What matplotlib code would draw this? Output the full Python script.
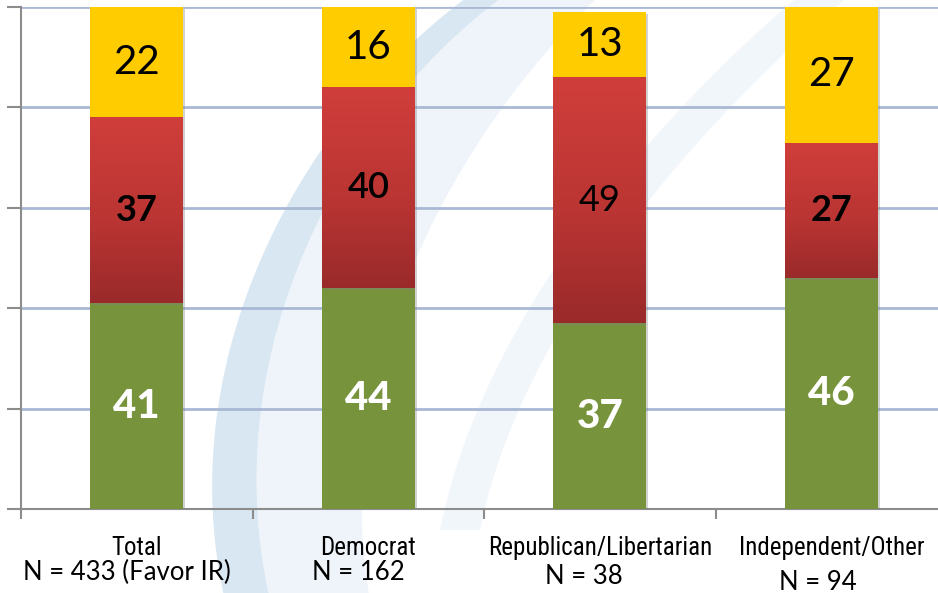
import numpy as np
import matplotlib
matplotlib.use("Agg")
import matplotlib.pyplot as plt
import matplotlib.patheffects as pe
from matplotlib.colors import LinearSegmentedColormap
from matplotlib.patches import Polygon

# Survey results, percent per group
groups = ["Total", "Democrat", "Republican/Libertarian", "Independent/Other"]
sample_sizes = ["N = 433 (Favor IR)", "N = 162", "N = 38", "N = 94"]
green_vals = [41, 44, 37, 46]
red_vals = [37, 40, 49, 27]
yellow_vals = [22, 16, 13, 27]

# label weights for the middle segment
red_weights = ["bold", "semibold", "normal", "bold"]

GREEN = "#77933C"
YELLOW = "#FFCC00"
red_cmap = LinearSegmentedColormap.from_list(
    "reds", [(0.0, "#9A2A2A"), (0.45, "#BA3533"), (1.0, "#D03E3B")])

W, H = 938, 593
fig = plt.figure(figsize=(W / 100, H / 100), dpi=100)
fig.patch.set_facecolor("white")

# background layer in pixel coordinates (y grows downward)
bg = fig.add_axes([0, 0, 1, 1], zorder=-5)
bg.set_xlim(0, W)
bg.set_ylim(H, 0)
bg.axis("off")


def bezier(p0, p1, p2, p3, n=80):
    t = np.linspace(0, 1, n)[:, None]
    p0, p1, p2, p3 = map(np.array, (p0, p1, p2, p3))
    return (1 - t) ** 3 * p0 + 3 * (1 - t) ** 2 * t * p1 + 3 * (1 - t) * t ** 2 * p2 + t ** 3 * p3


def swoosh(outer, inner, color):
    pts = np.vstack([bezier(*outer), bezier(*inner)[::-1]])
    bg.add_patch(Polygon(pts, closed=True, facecolor=color, edgecolor="none"))


# faint logo curve behind the chart
swoosh([(470, -5), (300, 120), (170, 360), (225, 600)],
       [(600, -5), (440, 150), (330, 380), (370, 600)], "#EEF4FA")
swoosh([(470, -5), (300, 120), (170, 360), (225, 600)],
       [(505, -5), (335, 120), (215, 360), (270, 600)], "#D9E7F3")
swoosh([(800, -5), (640, 130), (480, 330), (440, 530)],
       [(850, -5), (690, 130), (520, 330), (480, 530)], "#F1F6FB")

left, right, top, bottom = 21, 947, 7, 509
ax = fig.add_axes([left / W, 1 - bottom / H, (right - left) / W, (bottom - top) / H])
ax.set_facecolor("none")
ax.set_xlim(-0.5, 3.5)
ax.set_ylim(0, 100)

x = np.arange(len(groups))
bw = 0.4
shadow = [pe.SimplePatchShadow(offset=(1.5, -1.5), shadow_rgbFace="#808080", alpha=0.35), pe.Normal()]

ax.bar(x, green_vals, bw, color=GREEN, zorder=3, path_effects=shadow)
red_bottom = np.array(green_vals)
bars_r = ax.bar(x, red_vals, bw, bottom=red_bottom, color="#C03836", zorder=3, path_effects=shadow)
yel_bottom = red_bottom + np.array(red_vals)
ax.bar(x, yellow_vals, bw, bottom=yel_bottom, color=YELLOW, zorder=3, path_effects=shadow)

# vertical gradient on the red segments
grad = np.linspace(0, 1, 256).reshape(-1, 1)
for rect in bars_r:
    x0, y0 = rect.get_x(), rect.get_y()
    im = ax.imshow(grad, cmap=red_cmap, origin="lower", aspect="auto",
                   extent=[x0, x0 + rect.get_width(), y0, y0 + rect.get_height()], zorder=4)
    im.set_clip_path(rect)

font = ["Lato", "DejaVu Sans"]
for i in range(len(groups)):
    ax.text(x[i], green_vals[i] / 2, str(green_vals[i]), ha="center", va="center",
            fontsize=29, fontweight="black", color="white", family=font, zorder=5)
    ax.text(x[i], red_bottom[i] + red_vals[i] / 2, str(red_vals[i]), ha="center", va="center",
            fontsize=26, fontweight=red_weights[i], color="black", family=font, zorder=5)
    ax.text(x[i], yel_bottom[i] + yellow_vals[i] / 2, str(yellow_vals[i]), ha="center", va="center",
            fontsize=29, color="black", family=font, zorder=5)

# gridlines and axes
ax.set_yticks([0, 20, 40, 60, 80, 100])
ax.set_yticklabels([])
ax.yaxis.grid(True, color="#A9B8D4", linewidth=2, zorder=1)
ax.set_axisbelow(True)
ax.set_xticks([-0.5, 0.5, 1.5, 2.5, 3.5])
ax.set_xticklabels([])
ax.tick_params(axis="y", direction="out", length=10, width=1.5, color="#8C8C8C")
ax.tick_params(axis="x", direction="out", length=7, width=1.5, color="#8C8C8C")
for s in ["top", "right"]:
    ax.spines[s].set_visible(False)
for s in ["left", "bottom"]:
    ax.spines[s].set_color("#8C8C8C")
    ax.spines[s].set_linewidth(1.5)

# category labels below the axis
n_offsets = [(-10, 572), (-10, 572), (-16, 576), (-13, 582)]
for i, g in enumerate(groups):
    cx = ax.transData.transform((x[i], 0))[0]
    fig.text(cx / W, 1 - 548 / H, g, ha="center", va="center", fontsize=18,
             family=["Roboto Condensed", "DejaVu Sans"], color="black")
    dx, ny = n_offsets[i]
    fig.text((cx + dx) / W, 1 - ny / H, sample_sizes[i], ha="center", va="center",
             fontsize=18.5, family=font, color="black")

fig.savefig("out.png", dpi=100)
